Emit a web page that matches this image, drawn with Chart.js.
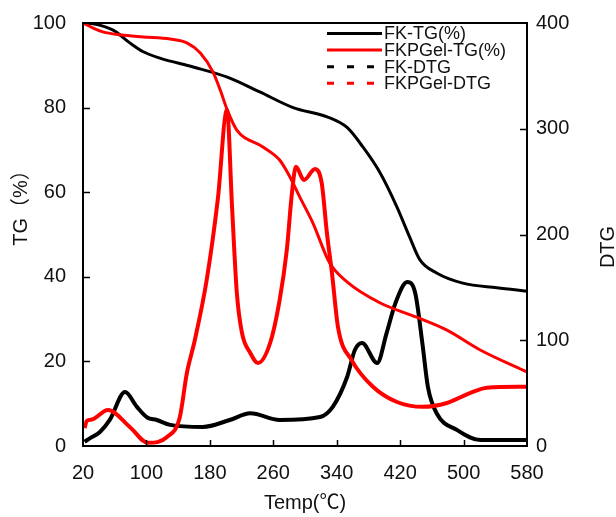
<!DOCTYPE html>
<html>
<head>
<meta charset="utf-8">
<script src="https://cdn.jsdelivr.net/npm/chart.js@4.4.1/dist/chart.umd.min.js"></script>
<style>
  html, body { margin: 0; padding: 0; background: #fff; }
</style>
</head>
<body>
<canvas id="tgChart" width="616" height="517"></canvas>
<script>
// temperature (deg C) and values
const fkTgTemp = [20, 33, 58, 79, 96, 117, 159, 202, 243, 285, 328, 353, 373, 395, 416, 432, 445, 466, 499, 542, 580];
const fkTg = [100, 99.8, 98.3, 95.3, 93.2, 91.7, 89.6, 87.2, 83.7, 80.0, 77.8, 75.3, 70.7, 64.5, 56.5, 49.4, 44.0, 40.9, 38.5, 37.4, 36.6];

const gelTgTemp = [20, 33, 45, 67, 96, 130, 151, 168, 184, 193, 202, 214, 247, 268, 281, 293, 310, 331, 353, 395, 440, 479, 521, 580];
const gelTg = [100, 98.8, 97.9, 97.2, 96.7, 96.2, 95.3, 92.9, 88.4, 84.2, 79.4, 74.7, 70.7, 67.6, 63.6, 59.0, 52.7, 43.3, 38.8, 33.8, 30.5, 27.4, 22.7, 17.5];

const fkDtgTemp = [22, 29, 41, 54, 73, 88, 101, 113, 130, 171, 205, 231, 268, 319, 335, 353, 363, 372, 391, 403, 414, 429, 439, 448, 455, 466, 492, 521, 580];
const fkDtg = [4, 7.5, 13, 25, 51, 37, 27, 24.6, 20, 18, 24.6, 31, 24.6, 27.4, 37, 65, 91, 97.4, 78.5, 107, 135, 155, 144.7, 97.4, 56, 31, 15, 5.7, 5.7];

const gelDtgTemp = [22, 25, 31, 51.5, 79, 102, 126, 142, 151, 161, 176, 190, 201.6, 208, 214, 220.5, 231, 240.7, 256, 268, 277, 283.5, 288.6, 298.7, 312.6, 321, 327.7, 334, 341.6, 359, 385.7, 416, 448.7, 479, 508, 529.5, 580];
const gelDtg = [17, 24, 25, 34, 18, 3, 8.5, 27, 69, 100, 157, 233, 318, 226, 145, 107, 88, 78.5, 97.4, 138, 185, 239, 264, 251.5, 262, 249, 201, 163.6, 112.5, 81, 56, 41.6, 37, 40.7, 50, 55, 56];

const xTicks = [20, 100, 180, 260, 340, 420, 500, 580];
const seriesLabels = ["FK-TG(%)", "FKPGel-TG(%)", "FK-DTG", "FKPGel-DTG"];
const xTitle = "Temp(℃)";
const leftTitle = "TG（%）";
const rightTitle = "DTG";

const FONT = "'Liberation Sans', Arial, 'Noto Sans CJK SC', sans-serif";
const INK = "#111";

function pts(xs, ys) {
  return xs.map((x, i) => ({ x: x, y: ys[i] }));
}

// fixed axis sizes so the plot box lands where the figure has it
function fixWidth(w) {
  return (s) => { s.width = w; s.paddingTop = 0; s.paddingBottom = 0; };
}

// frame, inward tick marks, y titles and legend
const extras = {
  id: "extras",
  afterDatasetsDraw(chart) {
    const { ctx, chartArea: a, scales } = chart;
    ctx.save();
    ctx.strokeStyle = "#000";
    ctx.lineWidth = 2;
    ctx.strokeRect(a.left, a.top, a.right - a.left, a.bottom - a.top);

    ctx.lineWidth = 1.5;
    ctx.beginPath();
    scales.x.ticks.forEach((t) => {
      if (t.value <= scales.x.min || t.value >= scales.x.max) return;
      const px = Math.round(scales.x.getPixelForValue(t.value)) + 0.5;
      ctx.moveTo(px, a.bottom);
      ctx.lineTo(px, a.bottom - 6);
    });
    scales.y.ticks.forEach((t) => {
      if (t.value <= scales.y.min || t.value >= scales.y.max) return;
      const py = Math.round(scales.y.getPixelForValue(t.value)) + 0.5;
      ctx.moveTo(a.left, py);
      ctx.lineTo(a.left + 7, py);
    });
    scales.y2.ticks.forEach((t) => {
      if (t.value <= scales.y2.min || t.value >= scales.y2.max) return;
      const py = Math.round(scales.y2.getPixelForValue(t.value)) + 0.5;
      ctx.moveTo(a.right, py);
      ctx.lineTo(a.right - 7, py);
    });
    ctx.stroke();

    ctx.fillStyle = INK;
    ctx.font = "20px " + FONT;
    ctx.textAlign = "center";
    ctx.textBaseline = "middle";
    ctx.save();
    ctx.translate(21, 203);
    ctx.rotate(-Math.PI / 2);
    ctx.fillText(leftTitle, 0, 0);
    ctx.restore();
    ctx.save();
    ctx.translate(608, 247);
    ctx.rotate(-Math.PI / 2);
    ctx.fillText(rightTitle, 0, 0);
    ctx.restore();

    // legend
    ctx.font = "18px " + FONT;
    ctx.textAlign = "left";
    chart.data.datasets.forEach((ds, i) => {
      const y = 33.5 + i * 16.6;
      ctx.strokeStyle = ds.borderColor;
      ctx.lineWidth = 3;
      ctx.setLineDash(ds.legendDash || []);
      ctx.beginPath();
      ctx.moveTo(327, y);
      ctx.lineTo(382, y);
      ctx.stroke();
      ctx.setLineDash([]);
      ctx.fillText(ds.label, 384, y + 1);
    });
    ctx.restore();
  }
};

new Chart(document.getElementById("tgChart"), {
  type: "line",
  data: {
    datasets: [
      { label: seriesLabels[0], data: pts(fkTgTemp, fkTg), yAxisID: "y", borderColor: "#000", borderWidth: 3, order: 3 },
      { label: seriesLabels[1], data: pts(gelTgTemp, gelTg), yAxisID: "y", borderColor: "#ff0000", borderWidth: 3, order: 1 },
      { label: seriesLabels[2], data: pts(fkDtgTemp, fkDtg), yAxisID: "y2", borderColor: "#000", borderWidth: 4, legendDash: [7, 13], order: 4 },
      { label: seriesLabels[3], data: pts(gelDtgTemp, gelDtg), yAxisID: "y2", borderColor: "#ff0000", borderWidth: 4, legendDash: [7, 13], order: 2 }
    ]
  },
  options: {
    responsive: false,
    animation: false,
    layout: { padding: { top: 23, left: 0, right: 0, bottom: 0 } },
    elements: {
      point: { radius: 0 },
      line: { cubicInterpolationMode: "monotone", fill: false }
    },
    plugins: { legend: { display: false }, tooltip: { enabled: false } },
    scales: {
      x: {
        type: "linear",
        min: 20,
        max: 580,
        afterBuildTicks: (s) => { s.ticks = xTicks.map((v) => ({ value: v })); },
        afterFit: (s) => { s.height = 71; s.paddingLeft = 0; s.paddingRight = 0; },
        grid: { display: false, drawTicks: false },
        border: { display: false },
        ticks: { color: INK, padding: 15, font: { size: 20, family: FONT } },
        title: { display: true, text: xTitle, color: INK, padding: { top: 0, bottom: 2 }, font: { size: 20, family: FONT } }
      },
      y: {
        position: "left",
        min: 0,
        max: 100,
        ticks: { stepSize: 20, color: INK, padding: 17, font: { size: 20, family: FONT } },
        afterFit: fixWidth(83),
        grid: { display: false, drawTicks: false },
        border: { display: false }
      },
      y2: {
        position: "right",
        min: 0,
        max: 400,
        ticks: { stepSize: 100, color: INK, padding: 9, font: { size: 20, family: FONT } },
        afterFit: fixWidth(89),
        grid: { display: false, drawTicks: false },
        border: { display: false }
      }
    }
  },
  plugins: [extras]
});
</script>
</body>
</html>
